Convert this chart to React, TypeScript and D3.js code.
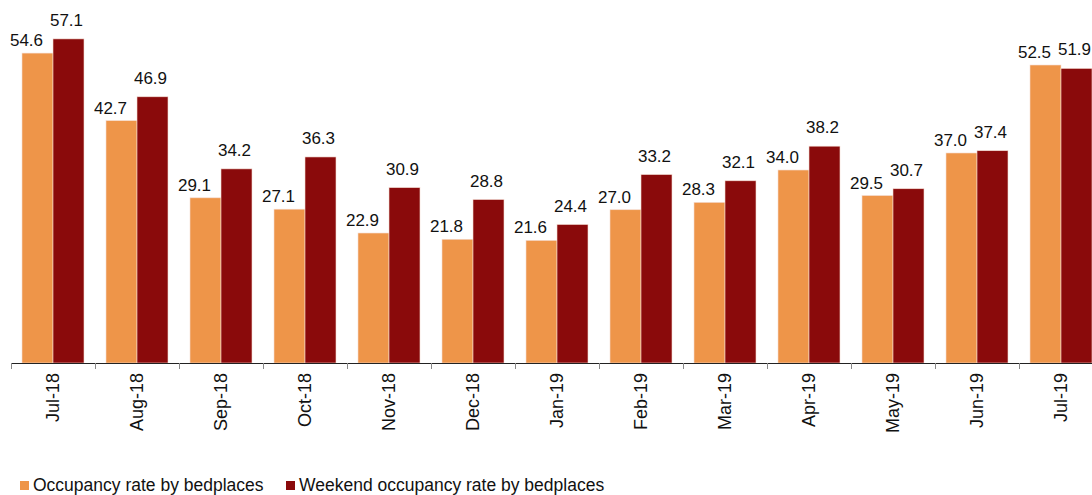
import { useRef, useEffect } from "react";
import * as d3 from "d3";

const months = [
  "Jul-18", "Aug-18", "Sep-18", "Oct-18", "Nov-18", "Dec-18", "Jan-19",
  "Feb-19", "Mar-19", "Apr-19", "May-19", "Jun-19", "Jul-19",
];
const occupancy = [54.6, 42.7, 29.1, 27.1, 22.9, 21.8, 21.6, 27.0, 28.3, 34.0, 29.5, 37.0, 52.5];
const weekendOccupancy = [57.1, 46.9, 34.2, 36.3, 30.9, 28.8, 24.4, 33.2, 32.1, 38.2, 30.7, 37.4, 51.9];
const seriesNames = ["Occupancy rate by bedplaces", "Weekend occupancy rate by bedplaces"];

const colors = ["#EE9549", "#8A0A0B"];

export default function App() {
  const svgRef = useRef<SVGSVGElement>(null);

  useEffect(() => {
    if (!svgRef.current) return;
    const svg = d3.select(svgRef.current);
    svg.selectAll("*").remove();

    const width = 1092;
    const height = 495;
    const font = "'Liberation Sans', Arial, sans-serif";
    const baseY = 363;

    svg.attr("width", width).attr("height", height);

    const x = d3
      .scaleBand<string>()
      .domain(months)
      .range([11, 11 + months.length * 84])
      .paddingInner(22 / 84)
      .paddingOuter(11 / 84);

    const inner = d3
      .scaleBand<number>()
      .domain([0, 1])
      .range([0, x.bandwidth()]);

    const y = d3.scaleLinear().domain([0, 60]).range([baseY, baseY - 60 * 5.676]);

    const series = [occupancy, weekendOccupancy];
    // Excel-ish label nudges per series
    const labelDx = [-11, -2];
    const labelGap = [7, 13];

    series.forEach((vals, si) => {
      const g = svg.append("g");
      g.selectAll("rect")
        .data(vals)
        .enter()
        .append("rect")
        .attr("x", (_d, i) => (x(months[i]) as number) + (inner(si) as number))
        .attr("y", (d) => y(d))
        .attr("width", inner.bandwidth())
        .attr("height", (d) => baseY - y(d))
        .attr("fill", colors[si])
        .attr("stroke", "#f4dcd2")
        .attr("stroke-width", 0.6);

      g.selectAll("text")
        .data(vals)
        .enter()
        .append("text")
        .attr("x", (_d, i) => (x(months[i]) as number) + (inner(si) as number) + inner.bandwidth() / 2 + labelDx[si])
        .attr("y", (d) => y(d) - labelGap[si])
        .attr("text-anchor", "middle")
        .attr("font-family", font)
        .attr("font-size", "17px")
        .attr("fill", "#111")
        .text((d) => d.toFixed(1));
    });

    // axis line and ticks
    const axis = svg.append("g");
    axis.append("line")
      .attr("x1", 11)
      .attr("x2", width)
      .attr("y1", baseY + 0.5)
      .attr("y2", baseY + 0.5)
      .attr("stroke", "#222")
      .attr("stroke-width", 1.2);

    const tickXs = months.map((_m, i) => 11 + i * x.step());
    axis.selectAll(".tick")
      .data(tickXs)
      .enter()
      .append("line")
      .attr("x1", (d) => d + 0.5)
      .attr("x2", (d) => d + 0.5)
      .attr("y1", baseY)
      .attr("y2", baseY + 6)
      .attr("stroke", "#888")
      .attr("stroke-width", 1);

    axis.selectAll(".lbl")
      .data(months)
      .enter()
      .append("text")
      .attr("transform", (d) => `translate(${(x(d) as number) + x.bandwidth() / 2},${baseY + 10}) rotate(-90)`)
      .attr("text-anchor", "end")
      .attr("dominant-baseline", "central")
      .attr("font-family", font)
      .attr("font-size", "18px")
      .attr("fill", "#111")
      .text((d) => d);

    // legend
    const legend = svg.append("g").attr("transform", "translate(20,485)");
    const legendX = [0, 266];
    seriesNames.forEach((name, i) => {
      legend.append("rect")
        .attr("x", legendX[i])
        .attr("y", -4)
        .attr("width", 9)
        .attr("height", 9)
        .attr("fill", colors[i]);
      legend.append("text")
        .attr("x", legendX[i] + 13)
        .attr("y", 0)
        .attr("dominant-baseline", "central")
        .attr("font-family", font)
        .attr("font-size", "17.5px")
        .attr("fill", "#111")
        .text(name);
    });
  }, []);

  return (
    <div>
      <style>{"body{margin:0;background:#fff}"}</style>
      <svg ref={svgRef} style={{ display: "block", overflow: "hidden" }} />
    </div>
  );
}
